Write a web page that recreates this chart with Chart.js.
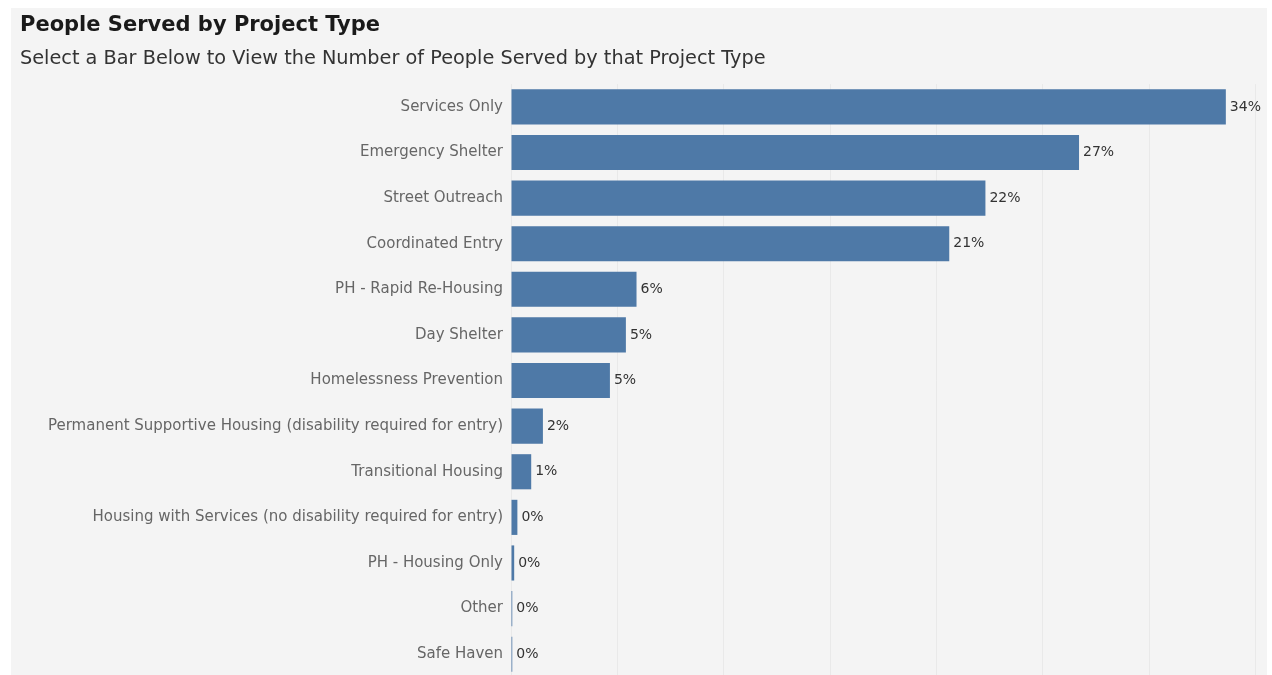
<!DOCTYPE html>
<html>
<head>
<meta charset="utf-8">
<script src="https://cdn.jsdelivr.net/npm/chart.js@4/dist/chart.umd.min.js"></script>
<style>
  html, body { margin: 0; padding: 0; background: #ffffff; overflow: hidden; }
  #panel { position: absolute; left: 11px; top: 8px; width: 1256px; height: 667px; background: #f4f4f4; overflow: hidden; }
  #wrap { position: absolute; left: 0; top: 0; width: 1256px; height: 669px; }
</style>
</head>
<body>
<div id="panel"><div id="wrap"><canvas id="c"></canvas></div></div>
<script>
const TITLE = 'People Served by Project Type';
const SUBTITLE = 'Select a Bar Below to View the Number of People Served by that Project Type';
const categories = [
  'Services Only',
  'Emergency Shelter',
  'Street Outreach',
  'Coordinated Entry',
  'PH - Rapid Re-Housing',
  'Day Shelter',
  'Homelessness Prevention',
  'Permanent Supportive Housing (disability required for entry)',
  'Transitional Housing',
  'Housing with Services (no disability required for entry)',
  'PH - Housing Only',
  'Other',
  'Safe Haven'
];
const shares = [33.6, 26.7, 22.3, 20.6, 5.9, 5.4, 4.65, 1.5, 0.95, 0.3, 0.15, 0.06, 0.06];
const valueLabels = ['34%', '27%', '22%', '21%', '6%', '5%', '5%', '2%', '1%', '0%', '0%', '0%', '0%'];
const xTicks = [0, 5, 10, 15, 20, 25, 30, 35];

const FONT = '"DejaVu Sans", "Noto Sans", sans-serif';

const valueLabelPlugin = {
  id: 'valueLabels',
  afterDatasetsDraw(chart) {
    const ctx = chart.ctx;
    const meta = chart.getDatasetMeta(0);
    ctx.save();
    ctx.font = '14px ' + FONT;
    ctx.fillStyle = '#333333';
    ctx.textAlign = 'left';
    ctx.textBaseline = 'middle';
    meta.data.forEach((bar, i) => {
      ctx.fillText(valueLabels[i], bar.x + 4, bar.y);
    });
    ctx.restore();
  }
};

new Chart(document.getElementById('c'), {
  type: 'bar',
  data: {
    labels: categories,
    datasets: [{
      data: shares,
      backgroundColor: '#4e79a7',
      borderWidth: 0,
      barPercentage: 0.77,
      categoryPercentage: 1.0,
      minBarLength: 1
    }]
  },
  options: {
    indexAxis: 'y',
    responsive: true,
    maintainAspectRatio: false,
    animation: false,
    layout: { padding: { left: 9, right: 5, top: 0, bottom: 0 } },
    plugins: {
      legend: { display: false },
      tooltip: { enabled: false },
      title: {
        display: true, text: TITLE, align: 'start',
        color: '#1a1a1a',
        font: { family: FONT, size: 21, weight: '600' },
        padding: { top: 5, bottom: 9.4 }
      },
      subtitle: {
        display: true, text: SUBTITLE, align: 'start',
        color: '#333333',
        font: { family: FONT, size: 19.3, weight: 'normal' },
        padding: { top: 0, bottom: 13.3 }
      }
    },
    scales: {
      x: {
        min: 0, max: 35.3,
        display: true,
        position: 'bottom',
        afterBuildTicks(scale) { scale.ticks = xTicks.map(v => ({ value: v })); },
        afterFit(scale) { scale.height = 0; scale.paddingTop = 0; scale.paddingBottom = 0; },
        ticks: { display: false },
        grid: { color: '#e9e9e9', lineWidth: 1, drawTicks: false },
        border: { display: false }
      },
      y: {
        afterFit(scale) { scale.width = 491; scale.paddingTop = 0; scale.paddingBottom = 0; },
        ticks: {
          color: '#666666',
          padding: 8,
          font: { family: FONT, size: 15 },
          autoSkip: false
        },
        grid: { display: false, drawTicks: false },
        border: { display: false }
      }
    }
  },
  plugins: [valueLabelPlugin]
});
</script>
</body>
</html>
